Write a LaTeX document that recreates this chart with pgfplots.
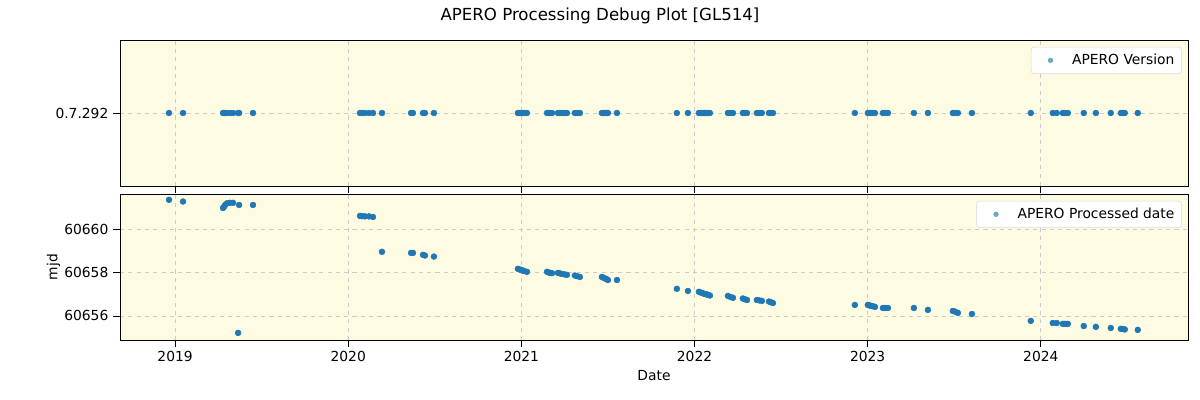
\documentclass[border=0pt]{standalone}
\usepackage{pgfplots}
\pgfplotsset{compat=1.18}
\usepackage{pgfplotstable}
\usepackage{fontspec}
\setmainfont{DejaVu Sans}
\definecolor{pt}{HTML}{1F77B4}
\definecolor{bg}{HTML}{FDFCE3}
\pgfplotstableread{
date mjd ver
2018.965 60661.40 0.7292
2019.046 60661.32 0.7292
2019.277 60661.02 0.7292
2019.283 60661.08 0.7292
2019.289 60661.16 0.7292
2019.300 60661.24 0.7292
2019.318 60661.26 0.7292
2019.335 60661.26 0.7292
2019.364 60655.21 0.7292
2019.370 60661.16 0.7292
2019.450 60661.16 0.7292
2020.068 60660.65 0.7292
2020.080 60660.64 0.7292
2020.097 60660.63 0.7292
2020.120 60660.63 0.7292
2020.143 60660.60 0.7292
2020.195 60658.98 0.7292
2020.363 60658.93 0.7292
2020.374 60658.93 0.7292
2020.432 60658.84 0.7292
2020.443 60658.81 0.7292
2020.495 60658.76 0.7292
2020.980 60658.19 0.7292
2020.990 60658.16 0.7292
2020.998 60658.14 0.7292
2021.008 60658.11 0.7292
2021.015 60658.09 0.7292
2021.032 60658.05 0.7292
2021.148 60658.05 0.7292
2021.158 60658.02 0.7292
2021.165 60658.00 0.7292
2021.177 60657.99 0.7292
2021.211 60658.00 0.7292
2021.222 60657.98 0.7292
2021.234 60657.95 0.7292
2021.250 60657.93 0.7292
2021.263 60657.91 0.7292
2021.309 60657.88 0.7292
2021.322 60657.85 0.7292
2021.338 60657.81 0.7292
2021.465 60657.81 0.7292
2021.475 60657.78 0.7292
2021.483 60657.74 0.7292
2021.492 60657.71 0.7292
2021.500 60657.67 0.7292
2021.552 60657.67 0.7292
2021.898 60657.26 0.7292
2021.962 60657.16 0.7292
2022.025 60657.12 0.7292
2022.035 60657.09 0.7292
2022.043 60657.07 0.7292
2022.052 60657.04 0.7292
2022.060 60657.02 0.7292
2022.070 60657.00 0.7292
2022.077 60656.98 0.7292
2022.089 60656.95 0.7292
2022.193 60656.93 0.7292
2022.208 60656.88 0.7292
2022.222 60656.84 0.7292
2022.279 60656.81 0.7292
2022.290 60656.78 0.7292
2022.303 60656.74 0.7292
2022.360 60656.74 0.7292
2022.375 60656.72 0.7292
2022.389 60656.70 0.7292
2022.430 60656.67 0.7292
2022.440 60656.64 0.7292
2022.453 60656.60 0.7292
2022.926 60656.51 0.7292
2023.001 60656.51 0.7292
2023.010 60656.49 0.7292
2023.018 60656.47 0.7292
2023.030 60656.45 0.7292
2023.042 60656.42 0.7292
2023.088 60656.37 0.7292
2023.100 60656.37 0.7292
2023.117 60656.37 0.7292
2023.267 60656.37 0.7292
2023.348 60656.28 0.7292
2023.492 60656.23 0.7292
2023.505 60656.20 0.7292
2023.521 60656.14 0.7292
2023.602 60656.09 0.7292
2023.942 60655.77 0.7292
2024.069 60655.67 0.7292
2024.092 60655.67 0.7292
2024.127 60655.63 0.7292
2024.140 60655.63 0.7292
2024.156 60655.63 0.7292
2024.248 60655.53 0.7292
2024.318 60655.49 0.7292
2024.404 60655.44 0.7292
2024.462 60655.40 0.7292
2024.475 60655.39 0.7292
2024.485 60655.37 0.7292
2024.560 60655.35 0.7292
}\datatab
\pgfplotsset{
  common/.style={
    scale only axis,
    width=10.68in, height=1.46in,
    xmin=2018.682, xmax=2024.850,
    xtick={2019,2020,2021,2022,2023,2024},
    axis background/.style={fill=bg},
    grid=major,
    major grid style={dashed, color=black!20, line width=0.6pt},
    tick align=outside, tick pos=left,
    major tick length=4.9pt,
    tick style={black, line width=0.6pt},
    axis line style={line width=0.6pt},
    scaled ticks=false,
    /pgf/number format/assume math mode=true,
    /pgf/number format/set thousands separator={},
    /pgf/number format/fixed,
    ticklabel style={font=\fontsize{10}{12}\selectfont},
    label style={font=\fontsize{10}{12}\selectfont},
    legend cell align=left,
    legend style={at={(0.994,0.953)}, anchor=north east, draw=black!15, rounded corners=2pt,
      font=\fontsize{10}{12}\selectfont, inner xsep=3pt, inner ysep=3pt},
    legend image code/.code={\path (0,0) (0.85cm,0); \fill[pt!65] (0.38cm,0) circle (1.7pt);},
  }
}
\begin{document}
\begin{tikzpicture}
\useasboundingbox (0,0) rectangle (12in,4in);
\node at (6in,3.84in) {\fontsize{12}{14}\selectfont APERO Processing Debug Plot [GL514]};
\begin{axis}[common, at={(1.2in,2.14in)}, anchor=south west,
  xticklabels={},
  ymin=0.7291, ymax=0.7293, ytick={0.7292}, yticklabels={0.7.292}]
\addplot[only marks, mark=*, mark size=2.1pt, color=pt] table[x=date, y=ver] {\datatab};
\addlegendentry{APERO Version}
\end{axis}
\begin{axis}[common, at={(1.2in,0.6in)}, anchor=south west,
  ymin=60654.88, ymax=60661.67, ytick={60656,60658,60660},
  yticklabels={60656,60658,60660},
  xlabel={Date}, ylabel={mjd},
  xlabel style={yshift=1pt},
  ylabel style={yshift=-4pt}]
\addplot[only marks, mark=*, mark size=2.1pt, color=pt] table[x=date, y=mjd] {\datatab};
\addlegendentry{APERO Processed date}
\end{axis}
\end{tikzpicture}
\end{document}
